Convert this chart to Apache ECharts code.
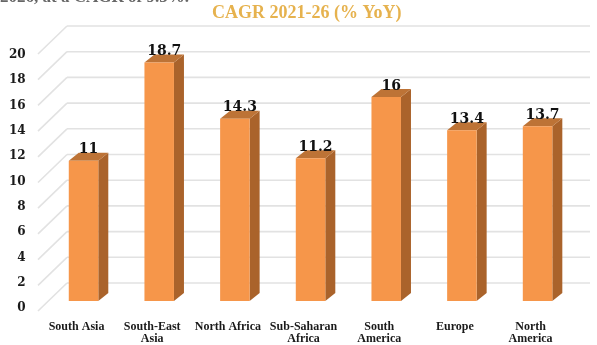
<!DOCTYPE html>
<html>
<head>
<meta charset="utf-8">
<script src="https://cdn.jsdelivr.net/npm/echarts@6/dist/echarts.min.js"></script>
<style>
html,body{margin:0;padding:0;background:#fff;}
#chart{width:597px;height:345px;}
</style>
</head>
<body>
<div id="chart"></div>
<script>
const categories = ['South Asia', 'South-East\nAsia', 'North Africa', 'Sub-Saharan\nAfrica', 'South\nAmerica', 'Europe', 'North\nAmerica'];
const values = [11, 18.7, 14.3, 11.2, 16, 13.4, 13.7];
const yMin = 0, yMax = 20, yStep = 2;
const yTicks = [0, 2, 4, 6, 8, 10, 12, 14, 16, 18, 20];
const titleText = 'CAGR 2021-26 (% YoY)';
const topText = '2026, at a CAGR of 9.5%.';

const chart = echarts.init(document.getElementById('chart'), null, {renderer: 'canvas'});
const DX = 10, DY = 8;
const WALL_DX = 29, WALL_DY = 28;

const option = {
  backgroundColor: '#ffffff',
  animation: false,
  graphic: [
    {type: 'text', left: 0, top: -11, style: {text: topText, font: 'bold 17px "Liberation Serif", serif', fill: '#666'}},
    {type: 'text', left: 212, top: 4, style: {text: titleText, font: 'bold 18px "Liberation Serif", serif', fill: '#E6B24E'}}
  ],
  grid: [
    {left: 67, right: 7, top: 26, bottom: 62},
    {left: 38.7, right: 28.6, top: 55, bottom: 35},
    {left: 45.7, right: 21.6, top: 46, bottom: 44}
  ],
  xAxis: [
    {gridIndex: 0, type: 'value', min: 0, max: 1, show: false},
    {gridIndex: 1, type: 'category', data: categories, axisLine: {show: false}, axisTick: {show: false},
      axisLabel: {margin: 13, interval: 0, color: '#1a1a1a', fontFamily: '"Liberation Serif", serif', fontWeight: 'bold', fontSize: 12, lineHeight: 12}},
    {gridIndex: 2, type: 'category', data: categories, show: false}
  ],
  yAxis: [
    {gridIndex: 0, type: 'value', min: yMin, max: yMax, interval: yStep, show: false},
    {gridIndex: 1, type: 'value', min: yMin, max: yMax, interval: yStep, axisLine: {show: false}, axisTick: {show: false}, splitLine: {show: false},
      axisLabel: {margin: 13, color: '#1a1a1a', fontFamily: '"DejaVu Serif", serif', fontWeight: 'bold', fontSize: 12}},
    {gridIndex: 2, type: 'value', min: yMin, max: yMax, interval: yStep, show: false}
  ],
  series: [
    {
      type: 'custom', xAxisIndex: 0, yAxisIndex: 0, silent: true,
      data: yTicks.map(v => [0, v]),
      renderItem: function (params, api) {
        const v = api.value(1);
        const p0 = api.coord([0, v]);
        const p1 = api.coord([1, v]);
        const st = {stroke: '#e2e2e2', lineWidth: 1.6};
        return {type: 'group', children: [
          {type: 'line', shape: {x1: p0[0], y1: p0[1], x2: p1[0], y2: p1[1]}, style: st},
          {type: 'line', shape: {x1: p0[0], y1: p0[1], x2: p0[0] - WALL_DX, y2: p0[1] + WALL_DY}, style: st}
        ]};
      }
    },
    {
      type: 'custom', xAxisIndex: 2, yAxisIndex: 2,
      data: values.map((v, i) => [i, v]),
      encode: {x: 0, y: 1},
      renderItem: function (params, api) {
        const i = api.value(0), v = api.value(1);
        const top = api.coord([i, v]);
        const base = api.coord([i, 0]);
        const w = api.size([1, 0])[0] * 0.39;
        const xl = top[0] - w / 2, xr = top[0] + w / 2;
        const yt = top[1], yb = base[1];
        return {type: 'group', children: [
          {type: 'polygon', shape: {points: [[xr, yt], [xr + DX, yt - DY], [xr + DX, yb - DY], [xr, yb]]}, style: {fill: '#AA632B'}},
          {type: 'polygon', shape: {points: [[xl, yt], [xl + DX, yt - DY], [xr + DX, yt - DY], [xr, yt]]}, style: {fill: '#BD7336'}},
          {type: 'rect', shape: {x: xl, y: yt, width: w, height: yb - yt}, style: {fill: '#F6964A'}},
          {type: 'text', style: {text: String(v), x: top[0] + DX / 2, y: yt - DY + 4, align: 'center', verticalAlign: 'bottom',
            font: 'bold 14px "DejaVu Serif", serif', fill: '#111'}}
        ]};
      }
    }
  ]
};
chart.setOption(option);
</script>
</body>
</html>
